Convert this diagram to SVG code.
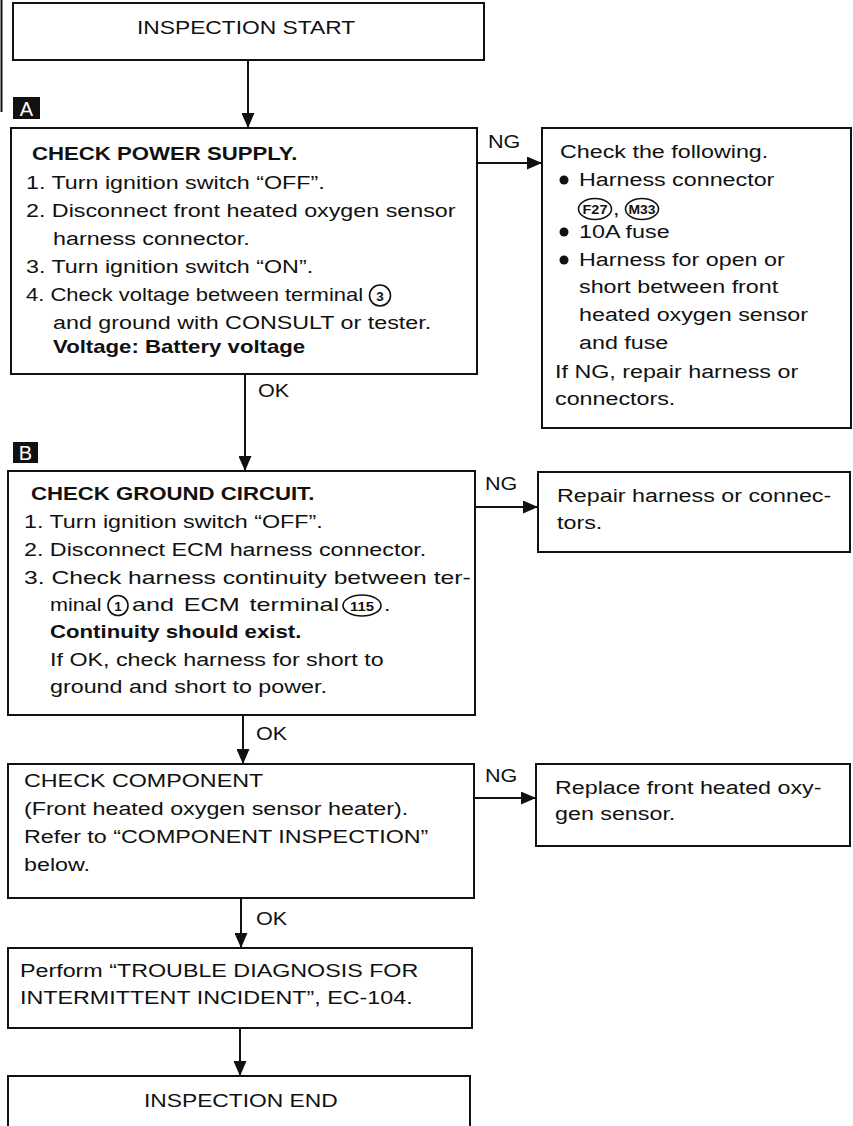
<svg xmlns="http://www.w3.org/2000/svg" width="853" height="1126" viewBox="0 0 853 1126">
<style>
.box{fill:#fff;stroke:#111;stroke-width:2}
.t{font-family:"Liberation Sans",Arial,Helvetica,sans-serif;font-size:18px;fill:#111}
.big{font-size:19px}
.b{font-weight:bold}
.circ{fill:#fff;stroke:#111;stroke-width:1.6}
.ct{font-family:"Liberation Sans",Arial,Helvetica,sans-serif;font-size:13.5px;font-weight:bold;fill:#111;text-anchor:middle}
.dot{fill:#111}
.conn{stroke:#111;stroke-width:2;fill:none}
.badge{fill:#111}
.bt{font-family:"Liberation Sans",Arial,Helvetica,sans-serif;font-size:20px;fill:#fff;text-anchor:middle}
</style>
<defs>
<marker id="ah" markerWidth="15" markerHeight="13" refX="15" refY="6.5" orient="auto" markerUnits="userSpaceOnUse">
<path d="M0,0 L15,6.5 L0,13 z" fill="#111"/>
</marker>
</defs>
<rect width="853" height="1126" fill="#fff"/>
<line x1="1.5" y1="0" x2="1.5" y2="112" stroke="#111" stroke-width="2"/>

<g id="start">
<rect class="box" x="13" y="3" width="471" height="57"/>
<text class="t big" transform="translate(137 0) scale(1.2 1)" y="34">INSPECTION START</text>
</g>

<g id="badgeA">
<rect class="badge" x="13" y="97" width="27" height="22"/>
<text class="bt" x="26.5" y="116">A</text>
</g>

<g id="checkPower">
<rect class="box" x="11" y="128" width="466" height="246"/>
<text class="t b" transform="translate(32 0) scale(1.233 1)" y="160">CHECK POWER SUPPLY.</text>
<text class="t" transform="translate(26 0) scale(1.294 1)" y="189">1. Turn ignition switch “OFF”.</text>
<text class="t" transform="translate(26 0) scale(1.294 1)" y="217">2. Disconnect front heated oxygen sensor</text>
<text class="t" transform="translate(53 0) scale(1.294 1)" y="245">harness connector.</text>
<text class="t" transform="translate(26 0) scale(1.294 1)" y="273">3. Turn ignition switch “ON”.</text>
<text class="t" transform="translate(26 0) scale(1.222 1)" y="301">4. Check voltage between terminal</text>
<circle class="circ" cx="380" cy="295.5" r="10.5"/>
<text class="ct" x="380" y="300.5">3</text>
<text class="t" transform="translate(53 0) scale(1.294 1)" y="329">and ground with CONSULT or tester.</text>
<text class="t b" transform="translate(53 0) scale(1.233 1)" y="353">Voltage: Battery voltage</text>
</g>

<g id="checkFollowing">
<rect class="box" x="542" y="128" width="309" height="300"/>
<text class="t" transform="translate(560 0) scale(1.294 1)" y="158">Check the following.</text>
<circle class="dot" cx="564" cy="180" r="4.5"/>
<text class="t" transform="translate(579 0) scale(1.294 1)" y="186">Harness connector</text>
<ellipse class="circ" cx="595" cy="209" rx="16.5" ry="10.5"/>
<text class="ct" x="595" y="214" textLength="25" lengthAdjust="spacingAndGlyphs">F27</text>
<text class="t" transform="translate(613 0) scale(1.294 1)" y="215">,</text>
<ellipse class="circ" cx="642" cy="209" rx="16.5" ry="10.5"/>
<text class="ct" x="642" y="214" textLength="27" lengthAdjust="spacingAndGlyphs">M33</text>
<circle class="dot" cx="564" cy="232" r="4.5"/>
<text class="t" transform="translate(579 0) scale(1.294 1)" y="238">10A fuse</text>
<circle class="dot" cx="564" cy="260" r="4.5"/>
<text class="t" transform="translate(579 0) scale(1.294 1)" y="266">Harness for open or</text>
<text class="t" transform="translate(579 0) scale(1.294 1)" y="293">short between front</text>
<text class="t" transform="translate(579 0) scale(1.294 1)" y="321">heated oxygen sensor</text>
<text class="t" transform="translate(579 0) scale(1.294 1)" y="349">and fuse</text>
<text class="t" transform="translate(555 0) scale(1.294 1)" y="378">If NG, repair harness or</text>
<text class="t" transform="translate(555 0) scale(1.294 1)" y="405">connectors.</text>
</g>

<g id="badgeB">
<rect class="badge" x="13" y="442" width="25" height="21"/>
<text class="bt" x="25.5" y="460">B</text>
</g>

<g id="checkGround">
<rect class="box" x="8" y="471" width="467" height="244"/>
<text class="t b" transform="translate(31 0) scale(1.233 1)" y="500">CHECK GROUND CIRCUIT.</text>
<text class="t" transform="translate(24 0) scale(1.294 1)" y="528">1. Turn ignition switch “OFF”.</text>
<text class="t" transform="translate(24 0) scale(1.294 1)" y="556">2. Disconnect ECM harness connector.</text>
<text class="t" transform="translate(24 0) scale(1.37 1)" y="584">3. Check harness continuity between ter-</text>
<text class="t" transform="translate(50 0) scale(1.2 1)" y="611">minal</text>
<circle class="circ" cx="118" cy="605.5" r="10"/>
<text class="ct" x="118" y="610.5">1</text>
<text class="t" transform="translate(132 0) scale(1.4 1)" y="611" word-spacing="2">and ECM terminal</text>
<ellipse class="circ" cx="362" cy="605.5" rx="19" ry="10.5"/>
<text class="ct" x="362" y="610.5" textLength="24" lengthAdjust="spacingAndGlyphs">115</text>
<text class="t" transform="translate(384 0) scale(1.294 1)" y="611">.</text>
<text class="t b" transform="translate(50 0) scale(1.233 1)" y="638">Continuity should exist.</text>
<text class="t" transform="translate(50 0) scale(1.294 1)" y="666">If OK, check harness for short to</text>
<text class="t" transform="translate(50 0) scale(1.294 1)" y="693">ground and short to power.</text>
</g>

<g id="repairHarness">
<rect class="box" x="538" y="472" width="312" height="80"/>
<text class="t" transform="translate(557 0) scale(1.294 1)" y="502">Repair harness or connec-</text>
<text class="t" transform="translate(557 0) scale(1.294 1)" y="529">tors.</text>
</g>

<g id="checkComponent">
<rect class="box" x="8" y="764" width="466" height="134"/>
<text class="t" transform="translate(24 0) scale(1.294 1)" y="787">CHECK COMPONENT</text>
<text class="t" transform="translate(24 0) scale(1.294 1)" y="815">(Front heated oxygen sensor heater).</text>
<text class="t" transform="translate(24 0) scale(1.294 1)" y="843">Refer to “COMPONENT INSPECTION”</text>
<text class="t" transform="translate(24 0) scale(1.294 1)" y="871">below.</text>
</g>

<g id="replaceSensor">
<rect class="box" x="536" y="764" width="314" height="82"/>
<text class="t" transform="translate(555 0) scale(1.294 1)" y="794">Replace front heated oxy-</text>
<text class="t" transform="translate(555 0) scale(1.294 1)" y="820">gen sensor.</text>
</g>

<g id="perform">
<rect class="box" x="8" y="948" width="464" height="80"/>
<text class="t" transform="translate(20 0) scale(1.294 1)" y="977">Perform “TROUBLE DIAGNOSIS FOR</text>
<text class="t" transform="translate(20 0) scale(1.294 1)" y="1004">INTERMITTENT INCIDENT”, EC-104.</text>
</g>

<g id="end">
<rect class="box" x="8" y="1076" width="462" height="60"/>
<text class="t big" transform="translate(144 0) scale(1.2 1)" y="1107">INSPECTION END</text>
</g>

<g id="connectors">
<line class="conn" x1="248" y1="60" x2="248" y2="128" marker-end="url(#ah)"/>
<line class="conn" x1="477" y1="163" x2="542" y2="163" marker-end="url(#ah)"/>
<text class="t" transform="translate(488 0) scale(1.2 1)" y="148">NG</text>
<line class="conn" x1="245" y1="374" x2="245" y2="471" marker-end="url(#ah)"/>
<text class="t" transform="translate(258 0) scale(1.2 1)" y="397">OK</text>
<line class="conn" x1="475" y1="507" x2="538" y2="507" marker-end="url(#ah)"/>
<text class="t" transform="translate(485 0) scale(1.2 1)" y="490">NG</text>
<line class="conn" x1="243" y1="715" x2="243" y2="764" marker-end="url(#ah)"/>
<text class="t" transform="translate(256 0) scale(1.2 1)" y="740">OK</text>
<line class="conn" x1="474" y1="798" x2="536" y2="798" marker-end="url(#ah)"/>
<text class="t" transform="translate(485 0) scale(1.2 1)" y="782">NG</text>
<line class="conn" x1="241" y1="898" x2="241" y2="948" marker-end="url(#ah)"/>
<text class="t" transform="translate(256 0) scale(1.2 1)" y="925">OK</text>
<line class="conn" x1="240" y1="1028" x2="240" y2="1076" marker-end="url(#ah)"/>
</g>
</svg>
